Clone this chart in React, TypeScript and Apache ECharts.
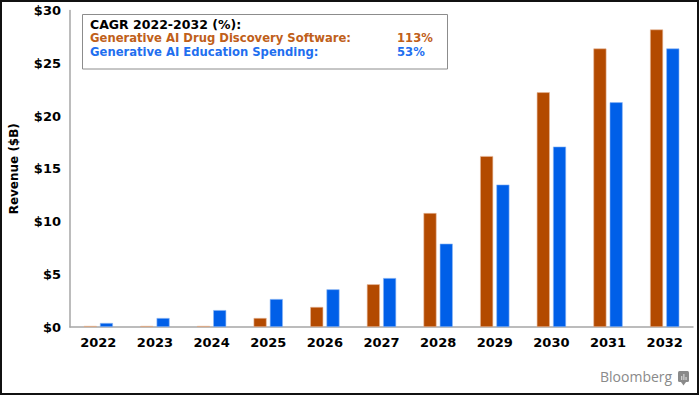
import React, { useEffect, useRef } from "react";
import * as echarts from "echarts";

const years = ["2022", "2023", "2024", "2025", "2026", "2027", "2028", "2029", "2030", "2031", "2032"];
const drugDiscovery = [0.1, 0.1, 0.1, 0.85, 1.9, 4.05, 10.8, 16.2, 22.25, 26.4, 28.2];
const education = [0.38, 0.85, 1.6, 2.65, 3.57, 4.64, 7.9, 13.5, 17.1, 21.3, 26.4];
const seriesNames = ["Generative AI Drug Discovery Software:", "Generative AI Education Spending:"];
const cagrValues = ["113%", "53%"];
const legendTitle = "CAGR 2022-2032 (%):";

const ORANGE = "#B34A00";
const BLUE = "#005FE8";
const FONT = "DejaVu Sans";

export default function App() {
  const ref = useRef<HTMLDivElement>(null);
  useEffect(() => {
    if (!ref.current) return;
    const chart = echarts.init(ref.current, null, { renderer: "svg" });
    chart.setOption({
      animation: false,
      backgroundColor: "#fff",
      grid: { left: 70, right: 7, top: 10.5, bottom: 69, containLabel: false },
      xAxis: {
        type: "category",
        data: years,
        axisLine: { lineStyle: { color: "#a6a6a6", width: 1.5 } },
        axisTick: { show: false },
        axisLabel: { color: "#000", fontFamily: FONT, fontWeight: "bold", fontSize: 13, margin: 9 },
      },
      yAxis: {
        type: "value",
        min: 0,
        max: 30,
        interval: 5,
        name: "Revenue ($B)",
        nameLocation: "middle",
        nameGap: 50,
        nameTextStyle: { color: "#000", fontFamily: FONT, fontWeight: "bold", fontSize: 12 },
        axisLine: { show: true, lineStyle: { color: "#a6a6a6", width: 1.5 } },
        axisTick: { show: false },
        splitLine: { show: false },
        axisLabel: {
          color: "#000",
          fontFamily: FONT,
          fontWeight: "bold",
          fontSize: 13,
          margin: 9,
          formatter: (v: number) => "$" + v,
        },
      },
      series: [
        {
          type: "bar",
          name: seriesNames[0],
          data: drugDiscovery,
          barWidth: 13,
          barGap: "25%",
          itemStyle: { color: ORANGE, borderColor: "#e8b89a", borderWidth: 0.6 },
        },
        {
          type: "bar",
          name: seriesNames[1],
          data: education,
          barWidth: 13,
          barGap: "25%",
          itemStyle: { color: BLUE, borderColor: "#8fb8f5", borderWidth: 0.6 },
        },
      ],
      graphic: [
        {
          type: "rect",
          shape: { x: 1, y: 1, width: 697, height: 393 },
          style: { fill: "none", stroke: "#111", lineWidth: 2 },
          silent: true,
        },
        {
          type: "rect",
          shape: { x: 82.5, y: 14.5, width: 365, height: 54.5 },
          style: { fill: "#fff", stroke: "#8c8c8c", lineWidth: 1 },
        },
        {
          type: "text",
          x: 90,
          y: 18,
          style: { text: legendTitle, fill: "#000", font: `bold 12.5px "${FONT}"` },
        },
        {
          type: "text",
          x: 90,
          y: 32,
          style: { text: seriesNames[0], fill: "#C0601A", font: `bold 11.6px "${FONT}"` },
        },
        {
          type: "text",
          x: 90,
          y: 46,
          style: { text: seriesNames[1], fill: "#1f6fef", font: `bold 11.6px "${FONT}"` },
        },
        {
          type: "text",
          x: 397,
          y: 32,
          style: { text: cagrValues[0], fill: "#C0601A", font: `bold 11.6px "${FONT}"` },
        },
        {
          type: "text",
          x: 397,
          y: 46,
          style: { text: cagrValues[1], fill: "#1f6fef", font: `bold 11.6px "${FONT}"` },
        },
        {
          type: "text",
          x: 600,
          y: 369,
          style: { text: "Bloomberg", fill: "#8a8a8a", font: `14px "Open Sans"` },
        },
        {
          type: "rect",
          shape: { x: 678, y: 371, width: 11, height: 11, r: 1.5 },
          style: { fill: "#8a8a8a" },
        },
        {
          type: "polygon",
          shape: { points: [[681, 382], [686, 382], [683.5, 385.5]] },
          style: { fill: "#8a8a8a" },
        },
        {
          type: "rect",
          shape: { x: 681, y: 376, width: 1.3, height: 4 },
          style: { fill: "#d0d0d0" },
        },
        {
          type: "rect",
          shape: { x: 683.2, y: 374, width: 1.3, height: 6 },
          style: { fill: "#d0d0d0" },
        },
        {
          type: "rect",
          shape: { x: 685.4, y: 377, width: 1.3, height: 3 },
          style: { fill: "#d0d0d0" },
        },
      ],
    });
    return () => chart.dispose();
  }, []);
  return (
    <div
      ref={ref}
      style={{ position: "fixed", left: 0, top: 0, width: 700, height: 396 }}
    />
  );
}
